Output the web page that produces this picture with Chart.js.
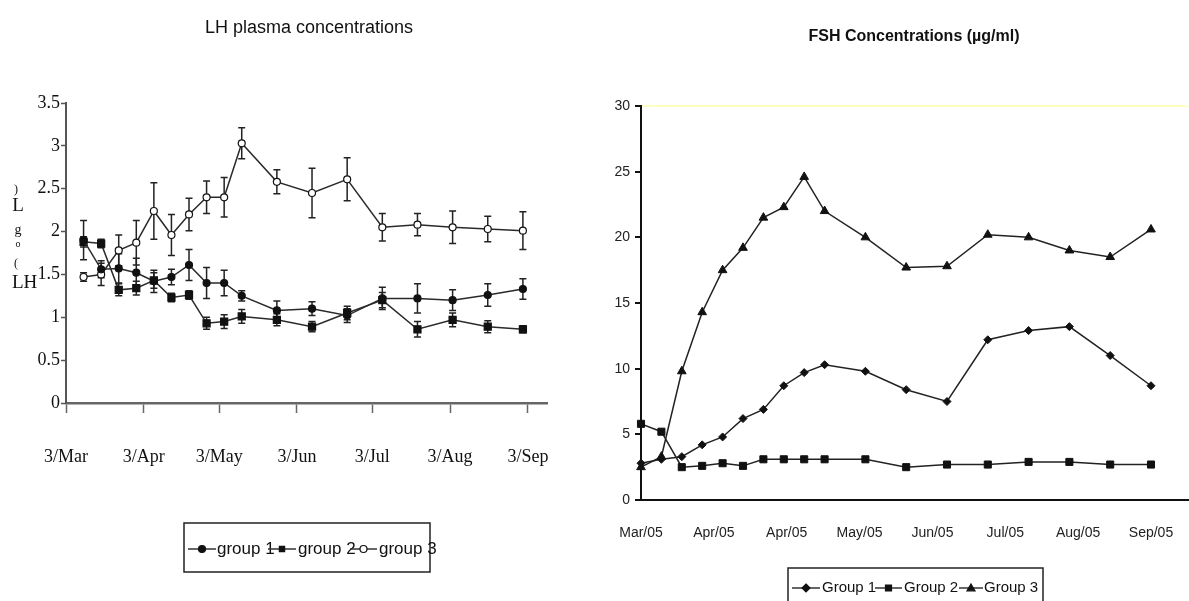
<!DOCTYPE html>
<html>
<head>
<meta charset="utf-8">
<script src="https://cdn.jsdelivr.net/npm/chart.js@4/dist/chart.umd.min.js"></script>
<style>
  body { margin: 0; background: #fff; overflow: hidden; }
  .box { position: absolute; top: 0; height: 601px; }
  #left { left: 0; width: 590px; }
  #right { left: 590px; width: 604px; }
</style>
</head>
<body>
<div class="box" id="left"><canvas id="lh"></canvas></div>
<div class="box" id="right"><canvas id="fsh"></canvas></div>
<script>
// LH chart (days since 3/Mar)
var lhDays = [7, 14, 21, 28, 35, 42, 49, 56, 63, 70, 84, 98, 112, 126, 140, 154, 168, 182];
var lhGroup1 = [1.90, 1.56, 1.57, 1.52, 1.42, 1.47, 1.61, 1.40, 1.40, 1.25, 1.08, 1.10, 1.02, 1.22, 1.22, 1.20, 1.26, 1.33];
var lhGroup2 = [1.88, 1.86, 1.32, 1.34, 1.43, 1.23, 1.26, 0.93, 0.95, 1.01, 0.97, 0.89, 1.05, 1.20, 0.86, 0.97, 0.89, 0.86];
var lhGroup3 = [1.47, 1.50, 1.78, 1.87, 2.24, 1.96, 2.20, 2.40, 2.40, 3.03, 2.58, 2.45, 2.61, 2.05, 2.08, 2.05, 2.03, 2.01];
var lhErr1 = [0.23, 0.10, 0.17, 0.17, 0.13, 0.09, 0.18, 0.18, 0.15, 0.06, 0.11, 0.08, 0.08, 0.13, 0.17, 0.12, 0.13, 0.12];
var lhErr2 = [0.06, 0.05, 0.07, 0.08, 0.09, 0.05, 0.05, 0.07, 0.08, 0.08, 0.07, 0.06, 0.08, 0.09, 0.09, 0.08, 0.07, 0.04];
var lhErr3 = [0.05, 0.13, 0.18, 0.26, 0.33, 0.24, 0.19, 0.19, 0.23, 0.18, 0.14, 0.29, 0.25, 0.16, 0.13, 0.19, 0.15, 0.22];
var lhTickDays = [0, 31, 61, 92, 122, 153, 184];
var lhTickLabels = ["3/Mar", "3/Apr", "3/May", "3/Jun", "3/Jul", "3/Aug", "3/Sep"];

// FSH chart (days since first sample)
var fshDays = [0, 7, 14, 21, 28, 35, 42, 49, 56, 63, 77, 91, 105, 119, 133, 147, 161, 175];
var fshGroup1 = [2.8, 3.1, 3.3, 4.2, 4.8, 6.2, 6.9, 8.7, 9.7, 10.3, 9.8, 8.4, 7.5, 12.2, 12.9, 13.2, 11.0, 8.7];
var fshGroup2 = [5.8, 5.2, 2.5, 2.6, 2.8, 2.6, 3.1, 3.1, 3.1, 3.1, 3.1, 2.5, 2.7, 2.7, 2.9, 2.9, 2.7, 2.7];
var fshGroup3 = [2.5, 3.3, 9.8, 14.3, 17.5, 19.2, 21.5, 22.3, 24.6, 22.0, 20.0, 17.7, 17.8, 20.2, 20.0, 19.0, 18.5, 20.6];
var fshTickDays = [0, 25, 50, 75, 100, 125, 150, 175];
var fshTickLabels = ["Mar/05", "Apr/05", "Apr/05", "May/05", "Jun/05", "Jul/05", "Aug/05", "Sep/05"];

var serif = "'Liberation Serif', 'Times New Roman', serif";
var narrow = "'Liberation Sans Narrow', 'Arial Narrow', 'Liberation Sans', sans-serif";

function points(xs, ys) {
    return xs.map(function(x, i) { return {x: x, y: ys[i]}; });
}

function drawMarker(ctx, style, x, y, r, fill, stroke) {
    ctx.beginPath();
    if (style === 'rect') {
        ctx.rect(x - r * 0.75, y - r * 0.75, r * 1.5, r * 1.5);
    } else if (style === 'rectRot') {
        ctx.moveTo(x, y - r); ctx.lineTo(x + r, y); ctx.lineTo(x, y + r); ctx.lineTo(x - r, y); ctx.closePath();
    } else if (style === 'triangle') {
        ctx.moveTo(x, y - r); ctx.lineTo(x + r, y + r * 0.7); ctx.lineTo(x - r, y + r * 0.7); ctx.closePath();
    } else {
        ctx.arc(x, y, r, 0, Math.PI * 2);
    }
    ctx.fillStyle = fill; ctx.fill();
    ctx.strokeStyle = stroke; ctx.lineWidth = 1.2; ctx.stroke();
}

// error bars drawn under the lines
var errorBars = {
    id: 'errorBars',
    beforeDatasetsDraw: function(chart) {
        var ctx = chart.ctx, xs = chart.scales.x, ys = chart.scales.y;
        chart.data.datasets.forEach(function(ds) {
            if (!ds.errors) return;
            ctx.save();
            ctx.strokeStyle = '#222';
            ctx.lineWidth = 1.5;
            ds.data.forEach(function(p, i) {
                var e = ds.errors[i];
                var x = xs.getPixelForValue(p.x);
                var y1 = ys.getPixelForValue(p.y + e), y2 = ys.getPixelForValue(p.y - e);
                ctx.beginPath();
                ctx.moveTo(x, y1); ctx.lineTo(x, y2);
                ctx.moveTo(x - 3.5, y1); ctx.lineTo(x + 3.5, y1);
                ctx.moveTo(x - 3.5, y2); ctx.lineTo(x + 3.5, y2);
                ctx.stroke();
            });
            ctx.restore();
        });
    }
};

// titles, loose text and boxed legend
var decor = {
    id: 'decor',
    afterDraw: function(chart, args, opts) {
        var ctx = chart.ctx;
        ctx.save();
        ctx.textBaseline = 'middle';
        (opts.texts || []).forEach(function(t) {
            ctx.font = t.font;
            ctx.fillStyle = '#111';
            ctx.textAlign = t.align || 'center';
            ctx.fillText(t.text, t.x, t.y);
        });
        var lg = opts.legend;
        if (lg) {
            ctx.strokeStyle = '#222';
            ctx.lineWidth = 1.5;
            ctx.strokeRect(lg.box[0], lg.box[1], lg.box[2], lg.box[3]);
            chart.data.datasets.forEach(function(ds, i) {
                var s = lg.symbols[i];
                ctx.beginPath();
                ctx.moveTo(s[0], lg.y); ctx.lineTo(s[1], lg.y);
                ctx.strokeStyle = '#333'; ctx.lineWidth = 1.5; ctx.stroke();
                drawMarker(ctx, ds.pointStyle, (s[0] + s[1]) / 2, lg.y, lg.r, ds.pointBackgroundColor, ds.pointBorderColor);
                ctx.font = lg.font;
                ctx.textAlign = 'left';
                ctx.fillStyle = '#111';
                ctx.fillText(ds.label, lg.textX[i], lg.y);
            });
        }
        ctx.restore();
    }
};

var lhLine = {borderColor: '#2a2a2a', borderWidth: 1.5, pointBorderColor: '#111', pointBorderWidth: 1.2, clip: false};

new Chart(document.getElementById('lh'), {
    type: 'line',
    data: {
        datasets: [
            Object.assign({label: 'group 1', data: points(lhDays, lhGroup1), errors: lhErr1,
                pointStyle: 'circle', pointRadius: 3.5, pointBackgroundColor: '#111'}, lhLine),
            Object.assign({label: 'group 2', data: points(lhDays, lhGroup2), errors: lhErr2,
                pointStyle: 'rect', pointRadius: 5, pointBackgroundColor: '#111'}, lhLine),
            Object.assign({label: 'group 3', data: points(lhDays, lhGroup3), errors: lhErr3,
                pointStyle: 'circle', pointRadius: 3.5, pointBackgroundColor: '#fff'}, lhLine)
        ]
    },
    options: {
        responsive: true,
        maintainAspectRatio: false,
        animation: false,
        layout: {padding: {left: 0, top: 103, right: 43, bottom: 108}},
        plugins: {
            legend: {display: false},
            tooltip: {enabled: false},
            decor: {
                texts: [
                    {text: 'LH plasma concentrations', x: 309, y: 28, font: '18px ' + narrow},
                    {text: ')', x: 16, y: 190, font: '12px ' + serif},
                    {text: 'L', x: 18, y: 206, font: '19px ' + serif},
                    {text: 'g', x: 18, y: 230, font: '14px ' + serif},
                    {text: 'o', x: 18, y: 244, font: '10px ' + serif},
                    {text: '(', x: 16, y: 264, font: '12px ' + serif},
                    {text: 'LH', x: 12, y: 283, font: '19px ' + serif, align: 'left'}
                ],
                legend: {box: [184, 523, 246, 49], y: 549, r: 3.5, font: '17px ' + narrow,
                    symbols: [[188, 216], [268, 296], [350, 377]], textX: [217, 298, 379]}
            }
        },
        scales: {
            x: {
                type: 'linear', min: 0, max: 191.6,
                afterBuildTicks: function(s) { s.ticks = lhTickDays.map(function(v) { return {value: v}; }); },
                afterFit: function(s) { s.height = 90; },
                ticks: {
                    callback: function(v, i) { return lhTickLabels[i]; },
                    font: {family: serif, size: 18}, color: '#111', padding: 33,
                    maxRotation: 0, autoSkip: false
                },
                grid: {drawOnChartArea: false, tickLength: 10, tickColor: '#666', tickWidth: 1.5},
                border: {color: '#666', width: 2.5}
            },
            y: {
                min: 0, max: 3.5,
                afterFit: function(s) { s.width = 66; },
                ticks: {
                    stepSize: 0.5, font: {family: serif, size: 18}, color: '#111', padding: 1,
                    callback: function(v) { return String(v); }
                },
                grid: {drawOnChartArea: false, tickLength: 5, tickColor: '#555', tickWidth: 1.5},
                border: {color: '#555', width: 2}
            }
        }
    },
    plugins: [errorBars, decor]
});

var fshLine = {borderColor: '#222', borderWidth: 1.5, pointBorderColor: '#111', pointBackgroundColor: '#111', pointBorderWidth: 1, clip: false};

new Chart(document.getElementById('fsh'), {
    type: 'line',
    data: {
        datasets: [
            Object.assign({label: 'Group 1', data: points(fshDays, fshGroup1), pointStyle: 'rectRot', pointRadius: 4}, fshLine),
            Object.assign({label: 'Group 2', data: points(fshDays, fshGroup2), pointStyle: 'rect', pointRadius: 5}, fshLine),
            Object.assign({label: 'Group 3', data: points(fshDays, fshGroup3), pointStyle: 'triangle', pointRadius: 5}, fshLine)
        ]
    },
    options: {
        responsive: true,
        maintainAspectRatio: false,
        animation: false,
        layout: {padding: {left: 0, top: 106, right: 0, bottom: 41}},
        plugins: {
            legend: {display: false},
            tooltip: {enabled: false},
            decor: {
                texts: [
                    {text: 'FSH Concentrations (\u00b5g/ml)', x: 324, y: 37, font: 'bold 16px ' + narrow}
                ],
                legend: {box: [198, 568, 255, 45], y: 588, r: 4, font: '15px ' + narrow,
                    symbols: [[202, 230], [285, 312], [369, 393]], textX: [232, 314, 394]}
            }
        },
        scales: {
            x: {
                type: 'linear', min: 0, max: 187.7,
                afterBuildTicks: function(s) { s.ticks = fshTickDays.map(function(v) { return {value: v}; }); },
                afterFit: function(s) { s.height = 60; },
                ticks: {
                    callback: function(v, i) { return fshTickLabels[i]; },
                    font: {family: narrow, size: 14}, color: '#222', padding: 2,
                    maxRotation: 0, autoSkip: false
                },
                grid: {drawOnChartArea: false, drawTicks: true, tickLength: 23, tickColor: 'rgba(0,0,0,0)'},
                border: {color: '#111', width: 2}
            },
            y: {
                min: 0, max: 30,
                afterFit: function(s) { s.width = 51; },
                ticks: {stepSize: 5, font: {family: narrow, size: 14}, color: '#222', padding: 5},
                grid: {
                    color: function(c) { return c.tick && c.tick.value === 30 ? '#ffffc0' : 'rgba(0,0,0,0)'; },
                    lineWidth: 2, tickLength: 6, tickColor: '#111'
                },
                border: {color: '#111', width: 2}
            }
        }
    },
    plugins: [errorBars, decor]
});
</script>
</body>
</html>
